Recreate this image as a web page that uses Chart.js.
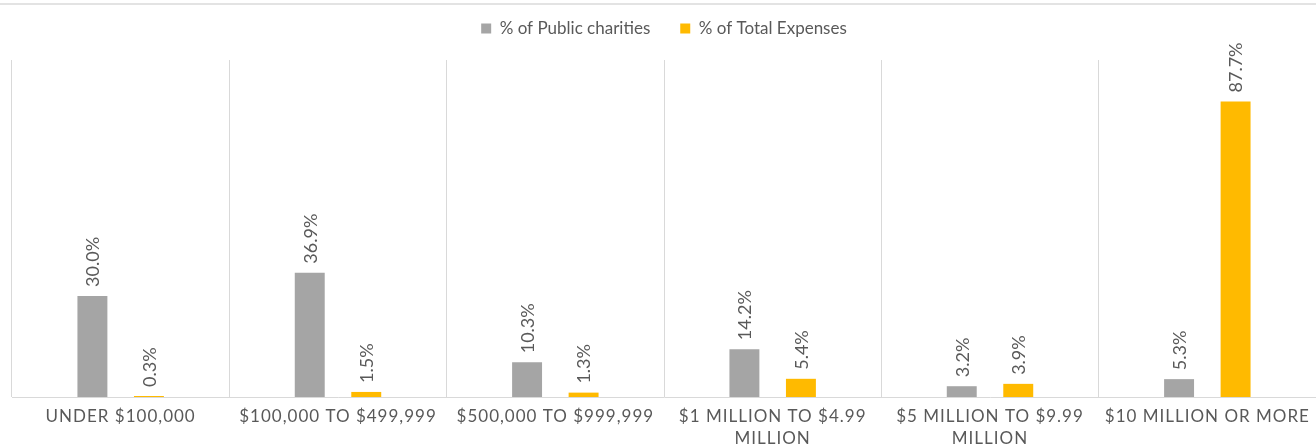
<!DOCTYPE html>
<html>
<head>
<meta charset="utf-8">
<script src="https://cdn.jsdelivr.net/npm/chart.js@4.4.1/dist/chart.umd.min.js"></script>
<style>
  html, body { margin: 0; padding: 0; background: #fff; }
  #wrap { position: relative; width: 1316px; height: 448px; }
  #topline { position: absolute; left: 0; top: 3px; width: 100%; height: 2px; background: #e3e3e3; }
  canvas { display: block; }
</style>
</head>
<body>
<div id="wrap">
  <div id="topline"></div>
  <canvas id="chart" width="1316" height="448"></canvas>
</div>
<script>
// Expense brackets (each entry = lines of the axis label)
const categories = [
    ['UNDER $100,000'],
    ['$100,000 TO $499,999'],
    ['$500,000 TO $999,999'],
    ['$1 MILLION TO $4.99', 'MILLION'],
    ['$5 MILLION TO $9.99', 'MILLION'],
    ['$10 MILLION OR MORE']
];
const seriesNames = ['% of Public charities', '% of Total Expenses'];
const publicCharities = [30.0, 36.9, 10.3, 14.2, 3.2, 5.3];
const totalExpenses = [0.3, 1.5, 1.3, 5.4, 3.9, 87.7];
const yRange = [0, 100];

const FONT = 'Lato, "Open Sans", sans-serif';
const TEXT_COLOR = '#595959';
const GRID_COLOR = '#d9d9d9';

// Hauteur fixe pour la légende (espace jusqu'au graphique)
const legendSpacer = {
    id: 'legendSpacer',
    afterInit(chart) {
        const fit = chart.legend.fit;
        chart.legend.fit = function () {
            fit.call(this);
            this.height = 70;
        };
    }
};

// Valeurs au-dessus des barres, texte vertical
const barLabels = {
    id: 'barLabels',
    afterDatasetsDraw(chart) {
        const ctx = chart.ctx;
        ctx.save();
        ctx.font = '18px ' + FONT;
        ctx.fillStyle = TEXT_COLOR;
        ctx.textAlign = 'left';
        ctx.textBaseline = 'middle';
        chart.data.datasets.forEach((ds, i) => {
            chart.getDatasetMeta(i).data.forEach((bar, j) => {
                ctx.save();
                ctx.translate(bar.x + 1, bar.y - 9);
                ctx.rotate(-Math.PI / 2);
                ctx.fillText(ds.data[j].toFixed(1) + '%', 0, 0);
                ctx.restore();
            });
        });
        ctx.restore();
    }
};

// Libellés de l'axe X en majuscules espacées
const categoryLabels = {
    id: 'categoryLabels',
    afterDraw(chart) {
        const ctx = chart.ctx;
        const xScale = chart.scales.x;
        ctx.save();
        ctx.font = '17px ' + FONT;
        ctx.fillStyle = TEXT_COLOR;
        ctx.textAlign = 'center';
        ctx.textBaseline = 'middle';
        ctx.letterSpacing = '1px';
        categories.forEach((lines, i) => {
            const x = xScale.getPixelForValue(i);
            lines.forEach((line, k) => {
                ctx.fillText(line, x, xScale.top + 20 + k * 22);
            });
        });
        ctx.restore();
    }
};

document.addEventListener('DOMContentLoaded', () => {
    const ctx = document.getElementById('chart').getContext('2d');
    new Chart(ctx, {
        type: 'bar',
        data: {
            labels: categories,
            datasets: [{
                label: seriesNames[0],
                data: publicCharities,
                backgroundColor: '#a5a5a5'
            }, {
                label: seriesNames[1],
                data: totalExpenses,
                backgroundColor: '#ffba00'
            }]
        },
        options: {
            responsive: false,
            animation: false,
            devicePixelRatio: 1,
            categoryPercentage: 0.52,
            barPercentage: 0.53,
            layout: {
                padding: { top: -10, left: 12, right: 0, bottom: 51 }
            },
            plugins: {
                legend: {
                    position: 'top',
                    labels: {
                        boxWidth: 10,
                        boxHeight: 10,
                        padding: 30,
                        color: TEXT_COLOR,
                        font: { family: FONT, size: 17 }
                    }
                },
                tooltip: { enabled: false }
            },
            scales: {
                x: {
                    grid: {
                        display: true,
                        offset: true,
                        drawTicks: false,
                        color: GRID_COLOR,
                        lineWidth: 1
                    },
                    border: { display: true, color: GRID_COLOR, width: 1 },
                    ticks: { display: false }
                },
                y: {
                    display: false,
                    min: yRange[0],
                    max: yRange[1]
                }
            }
        },
        plugins: [legendSpacer, barLabels, categoryLabels]
    });
});
</script>
</body>
</html>
